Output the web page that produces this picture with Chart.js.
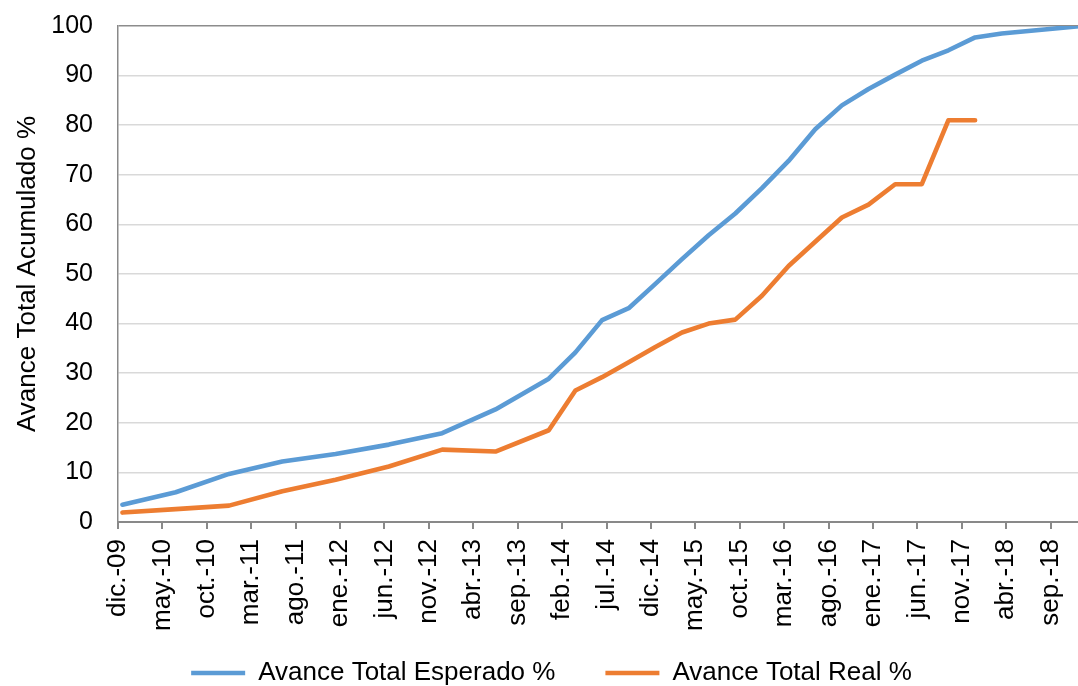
<!DOCTYPE html>
<html>
<head>
<meta charset="utf-8">
<script src="https://cdn.jsdelivr.net/npm/chart.js@4.4.1/dist/chart.umd.min.js"></script>
<style>
html,body{margin:0;padding:0;overflow:hidden;background:#fff;width:1078px;height:686px}
#wrap{width:1103px;height:700px}
</style>
</head>
<body>
<div id="wrap"><canvas id="c" width="1103" height="700"></canvas></div>
<script>
// X-axis tick labels, one every 5 months starting dic.-09
const tickLabels = ['dic.-09','may.-10','oct.-10','mar.-11','ago.-11','ene.-12','jun.-12','nov.-12',
  'abr.-13','sep.-13','feb.-14','jul.-14','dic.-14','may.-15','oct.-15','mar.-16','ago.-16',
  'ene.-17','jun.-17','nov.-17','abr.-18','sep.-18'];
const tickStepMonths = 5;

// Series: month number counted from dic.-09 (0) and accumulated %
const esperadoMonths = [0,6,12,18,24,30,36,42,48,51,54,57,60,63,66,69,72,75,78,81,84,87,90,93,96,99,102,105,108];
const esperadoValues = [3.5,6.0,9.7,12.2,13.7,15.6,17.9,22.7,28.9,34.2,40.7,43.1,48.0,53.0,57.8,62.2,67.3,72.8,79.2,84.0,87.3,90.2,93.0,95.1,97.7,98.5,99.0,99.5,100];

const realMonths = [0,6,12,18,24,30,36,42,48,51,54,57,60,63,66,69,72,75,78,81,84,87,90,93,96];
const realValues = [1.9,2.6,3.3,6.2,8.5,11.2,14.6,14.2,18.5,26.5,29.2,32.2,35.3,38.2,40.0,40.8,45.6,51.6,56.5,61.4,64.0,68.1,68.1,81.0,81.0];

const seriesNames = ['Avance Total Esperado %', 'Avance Total Real %'];
const yAxisTitle = 'Avance Total Acumulado %';

const FONT = 'Liberation Sans, Arial, sans-serif';
const MID = 0.5; // points sit in the middle of their month (date axis)
const toXY = (months, values) => months.map((m, i) => ({x: m + MID, y: values[i]}));

new Chart(document.getElementById('c'), {
  type: 'line',
  data: {
    datasets: [
      {
        label: seriesNames[0],
        data: toXY(esperadoMonths, esperadoValues),
        borderColor: '#5B9BD5', backgroundColor: '#5B9BD5',
        borderWidth: 4.6, pointRadius: 0, tension: 0,
        borderCapStyle: 'round', borderJoinStyle: 'round'
      },
      {
        label: seriesNames[1],
        data: toXY(realMonths, realValues),
        borderColor: '#ED7D31', backgroundColor: '#ED7D31',
        borderWidth: 4.6, pointRadius: 0, tension: 0,
        borderCapStyle: 'round', borderJoinStyle: 'round'
      }
    ]
  },
  options: {
    responsive: false,
    animation: false,
    layout: {padding: {top: 26, right: 0, bottom: 4, left: 0}},
    plugins: {
      tooltip: {enabled: false},
      legend: {
        position: 'bottom',
        labels: {
          usePointStyle: true, pointStyle: 'line', pointStyleWidth: 54,
          boxHeight: 5, padding: 50,
          font: {family: FONT, size: 26}, color: '#000'
        }
      }
    },
    scales: {
      x: {
        type: 'linear', min: 0, max: 110.9,
        afterBuildTicks: s => { s.ticks = tickLabels.map((_, i) => ({value: i * tickStepMonths})); },
        afterFit: s => { s.height = 88; s._computeLabelArea = () => undefined; },
        ticks: {
          autoSkip: false, maxRotation: 90, minRotation: 90, padding: 10,
          font: {family: FONT, size: 26}, color: '#000',
          callback: v => tickLabels[Math.round(v / tickStepMonths)] ?? ''
        },
        grid: {drawOnChartArea: false, drawTicks: true, tickLength: 7, color: '#898989', lineWidth: 2},
        border: {color: '#898989', width: 2}
      },
      y: {
        min: 0, max: 100,
        afterFit: s => { s.width = 118; s.paddingTop = 0; s.paddingBottom = 0; },
        ticks: {stepSize: 10, padding: 25, font: {family: FONT, size: 25}, color: '#000'},
        grid: {
          drawTicks: false, lineWidth: 1.5,
          color: c => (c.tick && c.tick.value === 100) ? '#8c8c8c' : '#d9d9d9'
        },
        border: {color: '#898989', width: 1.5},
        title: {display: true, text: yAxisTitle, font: {family: FONT, size: 26}, color: '#000', padding: {top: 12, bottom: 0}}
      }
    }
  }
});
</script>
</body>
</html>
